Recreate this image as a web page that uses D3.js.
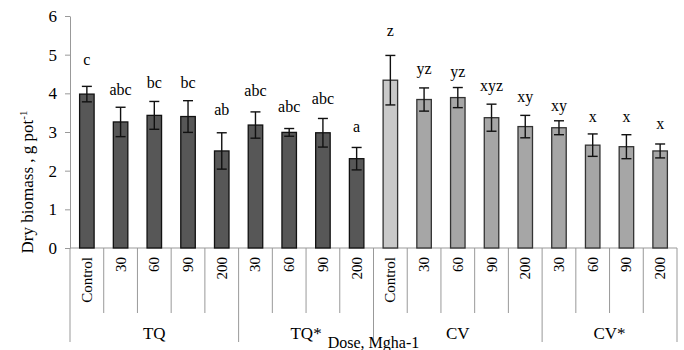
<!DOCTYPE html>
<html lang="en">

<head>
    <meta charset="UTF-8">
    <title>Dry biomass</title>
    <style>
        body {
            margin: 0;
            padding: 0;
            background-color: white;
        }

        svg text {
            font-family: "Liberation Serif", "Times New Roman", serif;
            fill: #000;
        }
    </style>
</head>

<body>
    <div id="chart"></div>
    <script src="https://cdn.jsdelivr.net/npm/d3@7"></script>
    <script>

        // data
        const groupNames = ['TQ', 'TQ*', 'CV', 'CV*']
        const groupSizes = [5, 4, 5, 4]
        const doses = ['Control', '30', '60', '90', '200', '30', '60', '90', '200',
            'Control', '30', '60', '90', '200', '30', '60', '90', '200']
        const biomass = [3.98, 3.26, 3.43, 3.40, 2.51, 3.18, 2.99, 2.98, 2.31,
            4.34, 3.84, 3.89, 3.37, 3.14, 3.11, 2.66, 2.62, 2.51]
        const errors = [0.20, 0.38, 0.36, 0.41, 0.47, 0.34, 0.10, 0.37, 0.29,
            0.64, 0.30, 0.26, 0.35, 0.29, 0.18, 0.29, 0.31, 0.18]
        const letters = ['c', 'abc', 'bc', 'bc', 'ab', 'abc', 'abc', 'abc', 'a',
            'z', 'yz', 'yz', 'xyz', 'xy', 'xy', 'x', 'x', 'x']
        const letterAt = [4.74, 3.96, 4.15, 4.15, 3.45, 3.94, 3.52, 3.73, 3.00,
            5.47, 4.51, 4.43, 4.07, 3.78, 3.55, 3.26, 3.26, 3.08]
        const yTicks = [0, 1, 2, 3, 4, 5, 6]

        const w = 684
        const h = 350
        const padL = 70, padR = 677, padT = 16, padB = 248

        // which group each bar belongs to
        const groupOf = []
        groupSizes.forEach((n, g) => { for (let i = 0; i < n; i++) groupOf.push(g) })
        const idx = doses.map((d, i) => i)

        const xScale = d3.scaleBand().domain(idx).range([padL, padR]).padding(0)
        const yScale = d3.scaleLinear().domain([0, 6]).range([padB, padT])
        const barW = xScale.bandwidth() * 0.43

        function barFill(i) {
            if (groupOf[i] < 2) return '#575757'
            if (doses[i] === 'Control') return '#c9c9c9'
            return '#a6a6a6'
        }

        const svg = d3.select('#chart')
            .append('svg')
            .attr('width', w)
            .attr('height', h)

        // y axis
        const yAxis = d3.axisLeft(yScale)
            .tickValues(yTicks)
            .tickFormat(d3.format('d'))
            .tickSize(5)
            .tickSizeOuter(0)
            .tickPadding(8)
        const gy = svg.append('g')
            .attr('transform', 'translate(' + padL + ',0)')
            .call(yAxis)
        gy.select('.domain').attr('stroke', '#999')
        gy.selectAll('.tick line').attr('stroke', '#999')
        gy.selectAll('.tick text')
            .style('font-family', '"Liberation Serif", serif')
            .style('font-size', '17px')
            .attr('fill', '#000')

        // x axis: baseline, category dividers, group dividers
        svg.append('line')
            .attr('x1', padL).attr('x2', padR)
            .attr('y1', padB).attr('y2', padB)
            .attr('stroke', '#999')

        const groupStarts = []
        let acc = 0
        groupSizes.forEach(n => { groupStarts.push(acc); acc += n })

        svg.selectAll('.cat-div')
            .data(idx.filter(i => !groupStarts.includes(i)))
            .enter()
            .append('line')
            .attr('class', 'cat-div')
            .attr('x1', i => xScale(i)).attr('x2', i => xScale(i))
            .attr('y1', padB).attr('y2', 313)
            .attr('stroke', '#999')

        const groupEdges = groupStarts.map(s => xScale(s)).concat([padR])
        svg.selectAll('.grp-div')
            .data(groupEdges)
            .enter()
            .append('line')
            .attr('class', 'grp-div')
            .attr('x1', d => d).attr('x2', d => d)
            .attr('y1', padB).attr('y2', 342)
            .attr('stroke', '#999')

        // rotated dose labels
        svg.selectAll('.dose')
            .data(idx)
            .enter()
            .append('text')
            .attr('class', 'dose')
            .attr('transform', i => 'translate(' + (xScale(i) + xScale.bandwidth() / 2) + ',257) rotate(-90)')
            .attr('text-anchor', 'end')
            .attr('dominant-baseline', 'central')
            .style('font-size', '15px')
            .text(i => doses[i])

        // group labels
        svg.selectAll('.grp')
            .data(groupNames)
            .enter()
            .append('text')
            .attr('class', 'grp')
            .attr('x', (d, g) => (groupEdges[g] + groupEdges[g + 1]) / 2)
            .attr('y', 339)
            .attr('text-anchor', 'middle')
            .style('font-size', '17px')
            .text(d => d)

        svg.append('text')
            .attr('x', (padL + padR) / 2)
            .attr('y', 348)
            .attr('text-anchor', 'middle')
            .style('font-size', '16px')
            .text('Dose, Mgha-1')

        // y label
        const yl = svg.append('text')
            .attr('transform', 'translate(33,' + ((padT + padB) / 2 + 50) + ') rotate(-90)')
            .attr('text-anchor', 'middle')
            .style('font-size', '17px')
        yl.append('tspan').text('Dry biomass , g pot')
        yl.append('tspan').attr('dy', -6).style('font-size', '11px').text('-1')

        // bars
        svg.selectAll('.bar')
            .data(idx)
            .enter()
            .append('rect')
            .attr('class', 'bar')
            .attr('x', i => xScale(i) + (xScale.bandwidth() - barW) / 2)
            .attr('y', i => yScale(biomass[i]))
            .attr('width', barW)
            .attr('height', i => padB - yScale(biomass[i]))
            .attr('fill', barFill)
            .attr('stroke', i => groupOf[i] < 2 ? '#111' : '#333')
            .attr('stroke-width', 1.3)

        // error bars
        const cx = i => xScale(i) + xScale.bandwidth() / 2
        const eb = svg.selectAll('.err')
            .data(idx)
            .enter()
            .append('g')
            .attr('class', 'err')
            .attr('stroke', '#111')
            .attr('stroke-width', 1.4)
        eb.append('line')
            .attr('x1', cx).attr('x2', cx)
            .attr('y1', i => yScale(biomass[i] + errors[i]))
            .attr('y2', i => yScale(biomass[i] - errors[i]))
        eb.append('line')
            .attr('x1', i => cx(i) - 5).attr('x2', i => cx(i) + 5)
            .attr('y1', i => yScale(biomass[i] + errors[i]))
            .attr('y2', i => yScale(biomass[i] + errors[i]))
        eb.append('line')
            .attr('x1', i => cx(i) - 5).attr('x2', i => cx(i) + 5)
            .attr('y1', i => yScale(biomass[i] - errors[i]))
            .attr('y2', i => yScale(biomass[i] - errors[i]))

        // significance letters
        svg.selectAll('.letter')
            .data(idx)
            .enter()
            .append('text')
            .attr('class', 'letter')
            .attr('x', cx)
            .attr('y', i => yScale(letterAt[i]))
            .attr('text-anchor', 'middle')
            .style('font-size', '16px')
            .text(i => letters[i])

    </script>
</body>

</html>
